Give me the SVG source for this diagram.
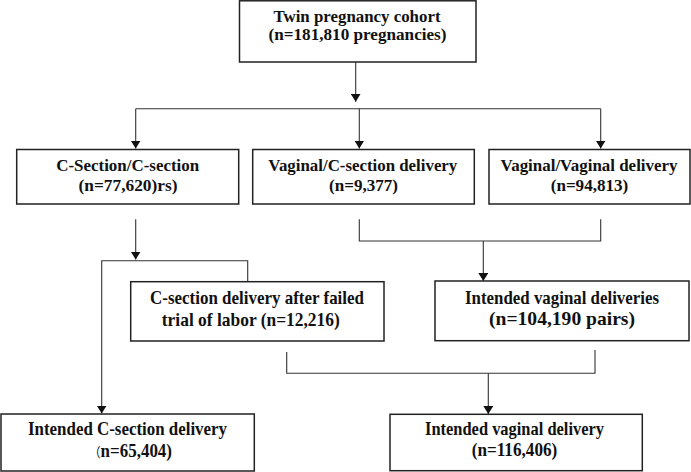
<svg xmlns="http://www.w3.org/2000/svg" width="691" height="472" viewBox="0 0 691 472">
<style>
.box{fill:#fff;stroke:#222;stroke-width:1.5}
.t{font-family:"Liberation Serif","Times New Roman",serif;font-weight:bold;fill:#111;text-anchor:middle}
.s16{font-size:17px}
.s18{font-size:19px}
.cjk{font-family:"Noto Sans CJK SC",sans-serif;font-weight:normal;font-size:13px}
.c{fill:none;stroke:#333;stroke-width:1.1}
</style>
<defs>
<marker id="ah" viewBox="0 0 8 10" refX="8" refY="5" markerWidth="8" markerHeight="10" markerUnits="userSpaceOnUse" orient="auto">
<path d="M0,0 L8,5 L0,10 z" fill="#111"/>
</marker>
</defs>
<rect width="691" height="472" fill="#fff"/>
<g id="connectors">
<path class="c" d="M355.7,62 V101.7" marker-end="url(#ah)"/>
<path class="c" d="M135.7,108.7 H600.7"/>
<path class="c" d="M135.7,108.7 V148.5" marker-end="url(#ah)"/>
<path class="c" d="M359.3,108.7 V148.5" marker-end="url(#ah)"/>
<path class="c" d="M600.7,108.7 V148.5" marker-end="url(#ah)"/>
<path class="c" d="M135.7,219.3 V259.5" marker-end="url(#ah)"/>
<path class="c" d="M247.7,281.7 V260.7 H101.7 V413.5" marker-end="url(#ah)"/>
<path class="c" d="M359.3,219.3 V241 H600.7 V219.3"/>
<path class="c" d="M483.3,241 V281" marker-end="url(#ah)"/>
<path class="c" d="M286.7,352 V373.3 H595 V350"/>
<path class="c" d="M488.3,373.3 V414" marker-end="url(#ah)"/>
</g>
<g id="cohort">
<rect class="box" x="239.5" y="0.8" width="236.5" height="61.2"/>
<text class="t s16" x="357" y="21.7" textLength="167" lengthAdjust="spacingAndGlyphs">Twin pregnancy cohort</text>
<text class="t s16" x="357.5" y="39.5" textLength="178" lengthAdjust="spacingAndGlyphs">(n=181,810 pregnancies)</text>
</g>
<g id="cs-cs">
<rect class="box" x="16.7" y="149.5" width="222" height="54.5"/>
<text class="t s16" x="127.7" y="170.7" textLength="143" lengthAdjust="spacingAndGlyphs">C-Section/C-section</text>
<text class="t s16" x="128" y="190.5" textLength="99" lengthAdjust="spacingAndGlyphs">(n=77,620)rs)</text>
</g>
<g id="vag-cs">
<rect class="box" x="252.7" y="149.5" width="221.6" height="54.5"/>
<text class="t s16" x="362.8" y="170.7" textLength="189" lengthAdjust="spacingAndGlyphs">Vaginal/C-section delivery</text>
<text class="t s16" x="363.5" y="190.5" textLength="69" lengthAdjust="spacingAndGlyphs">(n=9,377)</text>
</g>
<g id="vag-vag">
<rect class="box" x="489" y="149.5" width="201" height="54.5"/>
<text class="t s16" x="589" y="170.5" textLength="177" lengthAdjust="spacingAndGlyphs">Vaginal/Vaginal delivery</text>
<text class="t s16" x="589.5" y="190.5" textLength="77.6" lengthAdjust="spacingAndGlyphs">(n=94,813)</text>
</g>
<g id="cs-failed">
<rect class="box" x="130.7" y="281.7" width="253.3" height="59.3"/>
<text class="t s18" x="257" y="304" textLength="214" lengthAdjust="spacingAndGlyphs">C-section delivery after failed</text>
<text class="t s18" x="250.8" y="326" textLength="178" lengthAdjust="spacingAndGlyphs">trial of labor (n=12,216)</text>
</g>
<g id="intended-vag-pairs">
<rect class="box" x="435" y="281" width="254" height="59.7"/>
<text class="t s18" x="562" y="303.5" textLength="194" lengthAdjust="spacingAndGlyphs">Intended vaginal deliveries</text>
<text class="t s18" x="562" y="324.5" textLength="146" lengthAdjust="spacingAndGlyphs">(n=104,190 pairs)</text>
</g>
<g id="intended-cs">
<rect class="box" x="1" y="414" width="253.3" height="57"/>
<text class="t s18" x="127.5" y="435" textLength="199" lengthAdjust="spacingAndGlyphs">Intended C-section delivery</text>
<text class="t s18" x="130.5" y="457" textLength="83" lengthAdjust="spacingAndGlyphs"><tspan class="cjk">（</tspan>n=65,404)</text>
</g>
<g id="intended-vag">
<rect class="box" x="390" y="414.3" width="252.3" height="56.4"/>
<text class="t s18" x="514.5" y="434.5" textLength="179" lengthAdjust="spacingAndGlyphs">Intended vaginal delivery</text>
<text class="t s18" x="514.5" y="455.5" textLength="85.6" lengthAdjust="spacingAndGlyphs">(n=116,406)</text>
</g>
</svg>
